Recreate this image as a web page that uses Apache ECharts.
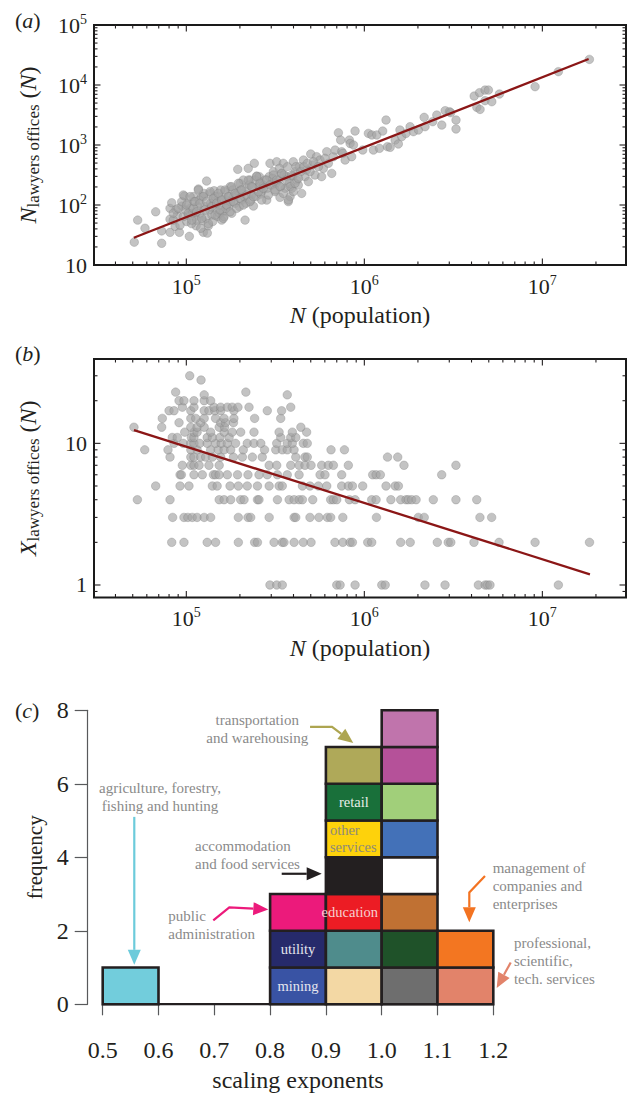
<!DOCTYPE html>
<html>
<head>
<meta charset="utf-8">
<script src="https://cdn.jsdelivr.net/npm/echarts@6/dist/echarts.min.js"></script>
<style>
html,body{margin:0;padding:0;background:#fff;}
#chart{width:632px;height:1093px;}
</style>
</head>
<body>
<div id="chart"></div>
<script>
// ---------------- DATA ----------------
// (a) lawyers' offices vs population
const aPopulation = [51000,53300,58600,67300,72700,72700,81000,81000,81000,82800,86500,89000,91400,94200,97500,100500,102600,104000,105000,109600,112000,113500,115300,117000,119400,122000,123600,124700,127400,130000,131200,133000,135800,139000,142000,143200,146900,149300,151400,154500,158000,161400,165000,168700,172200,176200,180000,183700,188000,194500,196000,200400,204600,213800,218300,222800,228000,232800,238200,241000,248300,254000,259400,265000,271000,283000,291700,295000,302000,308300,315000,322000,329000,335700,343600,350800,359000,366400,374000,382800,391000,399000,408000,417000,431500,444600,455000,464500,474000,485000,500000,513000,528400,539500,563600,575400,588800,615000,628000,
84500,87500,92200,96200,98400,101400,107000,108600,110400,114300,118300,120500,125600,129000,134600,137000,140600,144900,153500,156000,160000,163000,167000,174600,177500,182000,190000,198600,202000,209000,211000,216300,226000,230000,236000,243200,246600,257000,261800,276700,285000,305500,319000,333400,338800,354000,370000,379000,396000,413000,425600,439500,458000,478600,495500,517600,552000,601000,
84500,90200,94200,96200,100400,102600,105000,107200,109500,111900,114300,116800,119400,122000,124700,127400,130100,133000,135900,138800,141800,144900,148100,151400,154600,158000,161500,165000,168600,172300,176100,179900,183800,187800,191900,196100,200400,204700,209200,218400,223200,228000,233000,238100,248600,254000,259500,265200,271000,282900,289100,295400,308400,315100,322000,336100,343400,350900,366300,374300,382500,390800,399300,408000,425900,
656000,670000,685000,746000,757000,780000,849000,715000,736000,824000,832000,869000,887000,979000,1054000,1102000,1125000,1175000,1216000,1268000,1324000,1349000,1396000,1489000,1552000,1585000,1622000,1714000,1807000,1888000,2014000,2168000,2193000,2421000,2553000,2723000,2844000,3006000,3055000,3273000,3273000,4140000,4285000,4467000,4436000,4764000,4977000,4764000,5200000,5741000,9100000,12300000,18370000];
const aLawyersOffices = [24,56,41,77,37,23,88,58,35,109,44,68,35,96,141,53,68,30,88,138,64,45,96,185,73,138,55,35,94,251,34,45,156,68,114,173,83,64,138,100,56,77,167,121,94,202,73,138,107,393,167,230,121,56,190,408,261,147,96,495,304,202,245,167,215,121,297,495,215,360,167,527,261,134,337,495,190,297,114,138,190,527,360,261,435,156,562,297,383,245,708,464,316,639,562,297,408,774,495,
56,83,46,64,83,107,49,73,114,56,121,41,156,60,83,107,53,138,73,178,121,64,88,138,114,178,147,94,178,261,138,107,215,121,197,261,138,297,152,261,190,278,230,408,202,316,435,230,304,435,215,360,435,495,360,527,435,600,
73,88,114,147,100,73,138,56,88,114,77,178,107,60,138,83,114,49,167,94,129,68,107,156,83,121,60,178,100,138,77,202,114,156,88,230,129,178,100,147,261,114,202,138,297,167,230,121,190,261,147,215,316,178,261,202,337,156,261,121,202,316,167,230,278,
336,638,825,774,726,562,638,1600,1210,1210,1060,1000,1710,825,1560,1470,825,1470,880,1710,2610,938,914,1210,1040,1780,1380,1560,2020,1670,1780,2890,2020,2450,3160,2150,3730,3590,3460,2610,1850,6550,4240,3920,7450,8240,8240,5480,5270,7080,9380,16700,26700];
const aFitPopulation = [50700, 18200000];
const aFitOffices = [28.5, 27100];

// (b) scale-adjusted indicator: each X level with the populations found at that level
const bXLevels = [1,2,3,4,5,6,7,8,9,10,11,12,13,14,15,17,18,20,22,23,28,30];
const bPopulationByLevel = [
  [295000,322000,346000,700000,731000,887000,1253000,1310000,2190000,2840000,4370000,4770000,4910000,5080000,12300000],
  [82800,97000,131000,146000,196000,242000,251000,311000,346000,354000,403000,454000,502000,684000,757000,831000,857000,1045000,1100000,1600000,1810000,2570000,2960000,3060000,4130000,5710000,9100000,18400000],
  [83800,97000,102000,108000,115000,126000,137000,196000,222000,230000,292000,403000,412000,495000,556000,620000,647000,757000,1170000,2010000,2170000,4460000,5190000],
  [53100,81000,153000,163000,177500,202000,211000,251000,256000,325000,378000,403000,430000,449000,513000,647000,670000,700000,824000,887000,1100000,1164000,1410000,1600000,1714000,1766000,1845000,1953000,2440000,3270000,4280000],
  [67300,92200,103500,140000,149000,176000,196000,220000,251000,292000,332000,346000,449000,495000,552000,615000,746000,813000,857000,979000,1324000,1490000,1553000],
  [92200,93800,110400,123000,142000,146000,153000,170000,194000,222000,256000,285000,325000,369000,430000,564000,601000,746000,1114000,1164000,1230000,2720000],
  [95000,106000,110400,118000,134000,153000,292000,322000,386000,430000,464000,502000,576000,628000,670000,813000,1670000,3270000],
  [81000,106000,110400,120500,128500,140000,156000,184000,206500,235000,267000,412000,464000,478000,1350000,1540000],
  [58400,78900,106000,115000,137000,151000,163000,177500,209000,275000,318000,346000,369000,403000,650000,773000],
  [85300,96200,106000,110400,119000,131000,146000,157000,170000,189000,220000,240000,262000,322000,369000,394000,454000,478000],
  [83400,89000,106700,110400,131000,140000,154500,174000,339000,386000,412000],
  [98000,110400,115000,137000,163000,181000,202000,240000,332000,394000,474000],
  [50800,72700,106000,115000,126000,153000,164000,440000],
  [91000,120500,156000,166000,184000],
  [73300,106000,113000,126000,146000,163000,185000,242000,339000],
  [80000,85300,106000,126000,134000,144500,156000,185000,285000,343000],
  [95000,110400,143000,156000,170000,181000,195000,225000,386000],
  [91000,97000,110400,126000,137000],
  [126000,369000],
  [87100,216000],
  [121000],
  [104500]
];
const bFitPopulation = [50800, 18500000];
const bFitX = [12.4, 1.19];

// (c) histogram of scaling exponents: one cell per sector, bin start of its exponent
const binWidth = 0.1;
const cellBins = [0.5, 0.8,0.8,0.8, 0.9,0.9,0.9,0.9,0.9,0.9,0.9, 1.0,1.0,1.0,1.0,1.0,1.0,1.0,1.0, 1.1,1.1];
const cellLabels = ['', 'mining','utility','', '', '', 'education','', 'other\nservices','retail','', '', '', '', '', '', '', '', '', '', ''];
const cellColors = ['#72CDDC', '#3953A4','#262A6B','#EC1A7B', '#F3D8A4','#4F8C8C','#EC1C24','#231F20','#FED20B','#19703A','#AFA959', '#6E6E6E','#1F5229','#C07133','#FFFFFF','#4371B8','#A1CF7A','#B55199','#C074AC', '#E2836A','#F37621'];
const cellLabelColors = ['', '#E6E6EE','#E6E6EE','', '', '', '#F6D0D0','', '#8E8A78','#E8EEE8','', '', '', '', '', '', '', '', '', '', ''];

// annotations of panel (c) (positions in data units)
const annotations = [
  {text: 'transportation\nand warehousing', at: [0.777, 7.50], align: 'center', color: '#ADA550', path: [[0.8716, 7.55], [0.911, 7.55], [0.949, 7.11]]},
  {text: 'agriculture, forestry,\nfishing and hunting', at: [0.6027, 5.64], align: 'center', color: '#6CCBDB', path: [[0.5566, 5.10], [0.5566, 1.074]]},
  {text: 'accommodation\nand food services', at: [0.6654, 4.075], align: 'left', color: '#231F20', path: [[0.8208, 3.552], [0.8925, 3.552]]},
  {text: 'public\nadministration', at: [0.6176, 2.161], align: 'left', color: '#EC1A7B', path: [[0.6982, 2.282], [0.7269, 2.639], [0.7968, 2.577]]},
  {text: 'management of\ncompanies and\nenterprises', at: [1.1989, 3.23], align: 'left', color: '#F37321', path: [[1.1851, 3.49], [1.157, 3.042], [1.157, 2.236]]},
  {text: 'professional,\nscientific,\ntech. services', at: [1.237, 1.176], align: 'left', color: '#E2836A', path: [[1.2312, 1.136], [1.2061, 0.446]]}
];

// ---------------- CHART ----------------
const FONT = 'Liberation Serif, serif';
const INK = '#231F20';
const ANN = '#8A8A8A';

const aX = [30300, 29500000];
const aY = [10, 100000];
const bY = [0.816, 39.4];

function powLabel(v) {
  const e = Math.log10(v), r = Math.round(e);
  if (Math.abs(e - r) > 1e-6) return '';
  if (r === 0) return '{b|1}';
  if (r === 1) return '{b|10}';
  return '{b|10}{sup|' + r + '}';
}
const powRich = {
  b: {fontFamily: FONT, fontSize: 22, color: INK},
  sup: {fontFamily: FONT, fontSize: 14, color: INK, padding: [0, 0, 12, 0]}
};
function logTickValues(min, max) {
  const out = [];
  for (let e = Math.floor(Math.log10(min)); e <= Math.ceil(Math.log10(max)); e++) {
    for (let m = 1; m <= 9; m++) {
      const v = m * Math.pow(10, e);
      if (v > min * 1.0005 && v < max * 0.9995) out.push([v, m === 1 ? 1 : 0]);
    }
  }
  return out;
}
function tickData(xr, yr) {
  const d = [];
  logTickValues(xr[0], xr[1]).forEach(t => d.push([t[0], yr[0], 0, t[1]]));
  logTickValues(yr[0], yr[1]).forEach(t => d.push([xr[0], t[0], 1, t[1]]));
  return d;
}
function tickRender(params, api) {
  const cs = params.coordSys;
  const kind = api.value(2), major = api.value(3);
  const len = major ? 6.5 : 3.5;
  const p = api.coord([api.value(0), api.value(1)]);
  const style = {stroke: INK, lineWidth: 1.1};
  if (kind === 0) {
    const b = cs.y + cs.height, t = cs.y;
    return {type: 'group', children: [
      {type: 'line', shape: {x1: p[0], y1: b, x2: p[0], y2: b - len}, style},
      {type: 'line', shape: {x1: p[0], y1: t, x2: p[0], y2: t + len}, style}
    ]};
  }
  const l = cs.x, r = cs.x + cs.width;
  return {type: 'group', children: [
    {type: 'line', shape: {x1: l, y1: p[1], x2: l + len, y2: p[1]}, style},
    {type: 'line', shape: {x1: r, y1: p[1], x2: r - len, y2: p[1]}, style}
  ]};
}

const aScatter = aPopulation.map((p, i) => [p, aLawyersOffices[i]]);
const bScatter = [];
bXLevels.forEach((lv, i) => bPopulationByLevel[i].forEach(p => bScatter.push([p, lv])));

const cellData = [];
const levelCount = {};
cellBins.forEach((b, i) => {
  const k = b.toFixed(2);
  const lv = levelCount[k] || 0;
  levelCount[k] = lv + 1;
  cellData.push([b, b + binWidth, lv, i]);
});

const nameRich = {
  i: {fontFamily: FONT, fontSize: 24, fontStyle: 'italic', color: INK},
  n: {fontFamily: FONT, fontSize: 24, color: INK},
  sub: {fontFamily: FONT, fontSize: 17, color: INK, padding: [11, 0, 0, 0]}
};

function logXAxis(grid) {
  return {
    type: 'log', gridIndex: grid, min: aX[0], max: aX[1],
    axisLine: {show: false}, axisTick: {show: false}, splitLine: {show: false},
    axisLabel: {formatter: powLabel, rich: powRich, margin: 8},
    name: '{i|N}{n| (population)}', nameLocation: 'middle', nameGap: 38,
    nameTextStyle: {rich: nameRich}
  };
}

const scatterStyle = {color: 'rgba(163,163,163,0.82)', borderColor: 'rgba(125,125,125,0.7)', borderWidth: 0.6};

const option = {
  animation: false,
  backgroundColor: '#ffffff',
  textStyle: {fontFamily: FONT},
  grid: [
    {left: 94, right: 6, top: 25, height: 240, show: true, borderColor: '#1a1a1a', borderWidth: 2, backgroundColor: 'transparent'},
    {left: 94, right: 6, top: 359, height: 238.5, show: true, borderColor: '#1a1a1a', borderWidth: 2, backgroundColor: 'transparent'},
    {left: 102.7, width: 390.6, top: 710.3, height: 298}
  ],
  xAxis: [
    logXAxis(0),
    logXAxis(1),
    {
      type: 'value', gridIndex: 2, min: 0.5, max: 1.2, interval: 0.1, offset: 11.7,
      axisLine: {show: true, lineStyle: {color: '#58595B', width: 1.2}},
      axisTick: {show: true, inside: false, length: 11, lineStyle: {color: '#58595B', width: 1.2}},
      splitLine: {show: false},
      axisLabel: {formatter: v => v.toFixed(1), fontFamily: FONT, fontSize: 24, color: INK, margin: 22},
      name: 'scaling exponents', nameLocation: 'middle', nameGap: 52,
      nameTextStyle: {fontFamily: FONT, fontSize: 24, color: INK}
    }
  ],
  yAxis: [
    {
      type: 'log', gridIndex: 0, min: aY[0], max: aY[1],
      axisLine: {show: false}, axisTick: {show: false}, splitLine: {show: false},
      axisLabel: {formatter: powLabel, rich: powRich, margin: 7, showMinLabel: true, showMaxLabel: true},
      name: '{i|N}{sub|lawyers offices}{n| (}{i|N}{n|)}', nameLocation: 'middle', nameGap: 52, nameRotate: 90,
      nameTextStyle: {rich: nameRich}
    },
    {
      type: 'log', gridIndex: 1, min: bY[0], max: bY[1],
      axisLine: {show: false}, axisTick: {show: false}, splitLine: {show: false},
      axisLabel: {formatter: powLabel, rich: powRich, margin: 7},
      name: '{i|X}{sub|lawyers offices}{n| (}{i|N}{n|)}', nameLocation: 'middle', nameGap: 52, nameRotate: 90,
      nameTextStyle: {rich: nameRich}
    },
    {
      type: 'value', gridIndex: 2, min: 0, max: 8, interval: 2, offset: 15,
      axisLine: {show: true, lineStyle: {color: '#58595B', width: 1.2}},
      axisTick: {show: true, inside: false, length: 13, lineStyle: {color: '#58595B', width: 1.2}},
      splitLine: {show: false},
      axisLabel: {fontFamily: FONT, fontSize: 24, color: INK, margin: 19},
      name: 'frequency', nameLocation: 'middle', nameGap: 41, nameRotate: 90,
      nameTextStyle: {fontFamily: FONT, fontSize: 21, color: INK}
    }
  ],
  graphic: [
    {type: 'text', left: 15, top: 9, style: {text: '({i|a})', fontFamily: FONT, fontSize: 22, fill: INK, rich: {i: {fontStyle: 'italic', fontFamily: FONT, fontSize: 22}}}},
    {type: 'text', left: 15, top: 342, style: {text: '({i|b})', fontFamily: FONT, fontSize: 22, fill: INK, rich: {i: {fontStyle: 'italic', fontFamily: FONT, fontSize: 22}}}},
    {type: 'text', left: 15, top: 699, style: {text: '({i|c})', fontFamily: FONT, fontSize: 22, fill: INK, rich: {i: {fontStyle: 'italic', fontFamily: FONT, fontSize: 22}}}}
  ],
  series: [
    {type: 'scatter', name: 'offices', xAxisIndex: 0, yAxisIndex: 0, data: aScatter, symbolSize: 8.5, itemStyle: scatterStyle, z: 2, silent: true},
    {type: 'line', name: 'fit a', xAxisIndex: 0, yAxisIndex: 0, data: aFitPopulation.map((p, i) => [p, aFitOffices[i]]), symbol: 'none', lineStyle: {color: '#8B1616', width: 2.3}, z: 5, silent: true},
    {type: 'custom', name: 'ticks a', xAxisIndex: 0, yAxisIndex: 0, data: tickData(aX, aY), encode: {x: 0, y: 1}, renderItem: tickRender, z: 6, silent: true},
    {type: 'scatter', name: 'X', xAxisIndex: 1, yAxisIndex: 1, data: bScatter, symbolSize: 8.5, itemStyle: scatterStyle, z: 2, silent: true},
    {type: 'line', name: 'fit b', xAxisIndex: 1, yAxisIndex: 1, data: bFitPopulation.map((p, i) => [p, bFitX[i]]), symbol: 'none', lineStyle: {color: '#8B1616', width: 2.3}, z: 5, silent: true},
    {type: 'custom', name: 'ticks b', xAxisIndex: 1, yAxisIndex: 1, data: tickData(aX, bY), encode: {x: 0, y: 1}, renderItem: tickRender, z: 6, silent: true},
    {type: 'line', name: 'baseline', xAxisIndex: 2, yAxisIndex: 2, data: [[0.5, 0], [1.2, 0]], symbol: 'none', lineStyle: {color: INK, width: 2.6}, z: 2, silent: true},
    {
      type: 'custom', name: 'cells', xAxisIndex: 2, yAxisIndex: 2, data: cellData,
      dimensions: ['x0', 'x1', 'level', 'idx'], encode: {x: [0, 1], y: 2}, z: 3, silent: true,
      renderItem: (params, api) => {
        const x0 = api.value(0), x1 = api.value(1), lv = api.value(2), i = api.value(3);
        const pA = api.coord([x0, lv]), pB = api.coord([x1, lv + 1]);
        const r = {x: pA[0], y: pB[1], width: pB[0] - pA[0], height: pA[1] - pB[1]};
        const children = [{type: 'rect', shape: r, style: {fill: cellColors[i], stroke: INK, lineWidth: 2.6}}];
        const lab = cellLabels[i];
        if (lab) {
          const multi = lab.indexOf('\n') >= 0;
          children.push({
            type: 'text', z2: 10,
            x: multi ? r.x + 4 : r.x + r.width / 2 - (lab === 'education' ? 4 : 0),
            y: r.y + r.height / 2,
            style: {text: lab, fill: cellLabelColors[i], fontFamily: FONT, fontSize: 14.5,
              align: multi ? 'left' : 'center', verticalAlign: 'middle', lineHeight: 17}
          });
        }
        return {type: 'group', children};
      }
    },
    {
      type: 'custom', name: 'annotations', xAxisIndex: 2, yAxisIndex: 2, data: [[0.5, 0]],
      encode: {x: 0, y: 1}, z: 8, silent: true,
      renderItem: (params, api) => {
        const children = [];
        annotations.forEach(a => {
          const t = api.coord(a.at);
          children.push({type: 'text', x: t[0], y: t[1], style: {text: a.text, fill: ANN, fontFamily: FONT, fontSize: 15,
            align: a.align, verticalAlign: 'middle', lineHeight: 18}});
          const pts = a.path.map(p => api.coord(p));
          const tip = pts[pts.length - 1], prev = pts[pts.length - 2];
          const dx = tip[0] - prev[0], dy = tip[1] - prev[1];
          const L = Math.sqrt(dx * dx + dy * dy);
          const ux = dx / L, uy = dy / L;
          const hl = 15, hw = 6.5;
          const base = [tip[0] - ux * hl, tip[1] - uy * hl];
          const linePts = pts.slice(0, -1).concat([base]);
          children.push({type: 'polyline', shape: {points: linePts}, style: {stroke: a.color, lineWidth: 2.2, fill: null}});
          children.push({type: 'polygon', shape: {points: [tip, [base[0] - uy * hw, base[1] + ux * hw], [base[0] + uy * hw, base[1] - ux * hw]]},
            style: {fill: a.color, stroke: null}});
        });
        return {type: 'group', children};
      }
    }
  ]
};

const chart = echarts.init(document.getElementById('chart'), null, {renderer: 'svg', width: 632, height: 1093});
chart.setOption(option);
</script>
</body>
</html>
